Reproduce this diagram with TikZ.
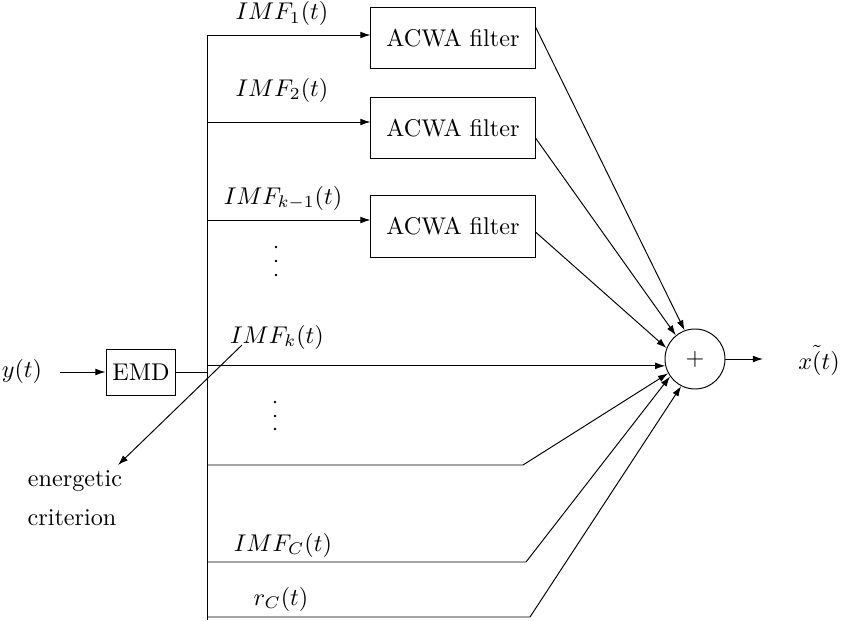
\documentclass[tikz,border=0pt]{standalone}
\usetikzlibrary{arrows.meta,calc}
\begin{document}
\begin{tikzpicture}[x=0.4133pt,y=-0.4133pt,
  blk/.style={draw, rectangle, inner sep=0pt},
  arr/.style={-{Latex[length=4.2pt,width=2.8pt]}},
  lbl/.style={anchor=base, inner sep=0pt},
  dotn/.style={circle, fill, inner sep=0pt, minimum size=1.2pt}]
\useasboundingbox (0,0) rectangle (842,621);
% input
\node[lbl] (yt) at (22,377) {$y(t)$};
\node[blk, minimum width=28.9pt, minimum height=19pt] (emd) at (141,372) {EMD};
\coordinate (yin) at (60,372);
\draw[arr] (yin) -- (emd.west);
% bus
\coordinate (btop) at (207,35);
\coordinate (bbot) at (207,620);
\draw (btop) -- (bbot);
\coordinate (bemd) at (207,372);
\draw (emd.east) -- (bemd);
% filters
\node[blk, minimum width=67.8pt, minimum height=25.6pt] (f1) at (453,38) {ACWA filter};
\node[blk, minimum width=67.8pt, minimum height=25.6pt] (f2) at (453,128) {ACWA filter};
\node[blk, minimum width=67.8pt, minimum height=25.6pt] (f3) at (453,226.5) {ACWA filter};
\coordinate (b2) at (207,122);
\coordinate (b3) at (207,220);
\draw[arr] (btop) -- (btop -| f1.west);
\draw[arr] (b2) -- (b2 -| f2.west);
\draw[arr] (b3) -- (b3 -| f3.west);
% sum
\node[circle, draw, minimum size=24.8pt, inner sep=0pt] (sum) at (695,359) {$+$};
\coordinate (out) at (763,359);
\draw[arr] (sum.east) -- (out);
\node[lbl] (xt) at (819,369) {$x\tilde{(}t)$};
% filter outputs
\draw[arr] ($(f1.east)+(0,-11)$) -- (sum.110.6);
\draw[arr] ($(f2.east)+(0,10)$) -- (sum.129);
\draw[arr] ($(f3.east)+(0,5.5)$) -- (sum.159);
% direct branches
\draw[arr] (bbot |- sum.193.5) -- (sum.193.5);
\coordinate (b5) at (207,465); \coordinate (k5) at (523,465);
\coordinate (b6) at (207,562); \coordinate (k6) at (526,562);
\coordinate (b7) at (207,617); \coordinate (k7) at (530,617);
\draw[arr] (b5) -- (k5) -- (sum.208);
\draw[arr] (b6) -- (k6) -- (sum.215.5);
\draw[arr] (b7) -- (k7) -- (sum.243);
% energetic criterion
\coordinate (ec1) at (242,345);
\coordinate (ec2) at (118,465);
\draw[arr] (ec1) -- (ec2);
\node[lbl] (en) at (75,486) {energetic};
\node[lbl] (cr) at (72,525) {criterion};
% labels
\node[lbl] (l1) at (282,20) {$IMF_1(t)$};
\node[lbl] (l2) at (282,96) {$IMF_2(t)$};
\node[lbl] (l3) at (283,204) {$IMF_{k-1}(t)$};
\node[lbl] (l4) at (277,343) {$IMF_k(t)$};
\node[lbl] (l5) at (283,551) {$IMF_C(t)$};
\node[lbl] (l6) at (281,605) {$r_C(t)$};
% dots
\node[dotn] (d1) at (276,247) {};
\node[dotn] (d2) at (276,261) {};
\node[dotn] (d3) at (276,275) {};
\node[dotn] (d4) at (275,402) {};
\node[dotn] (d5) at (275,416) {};
\node[dotn] (d6) at (275,429) {};
\end{tikzpicture}
\end{document}
